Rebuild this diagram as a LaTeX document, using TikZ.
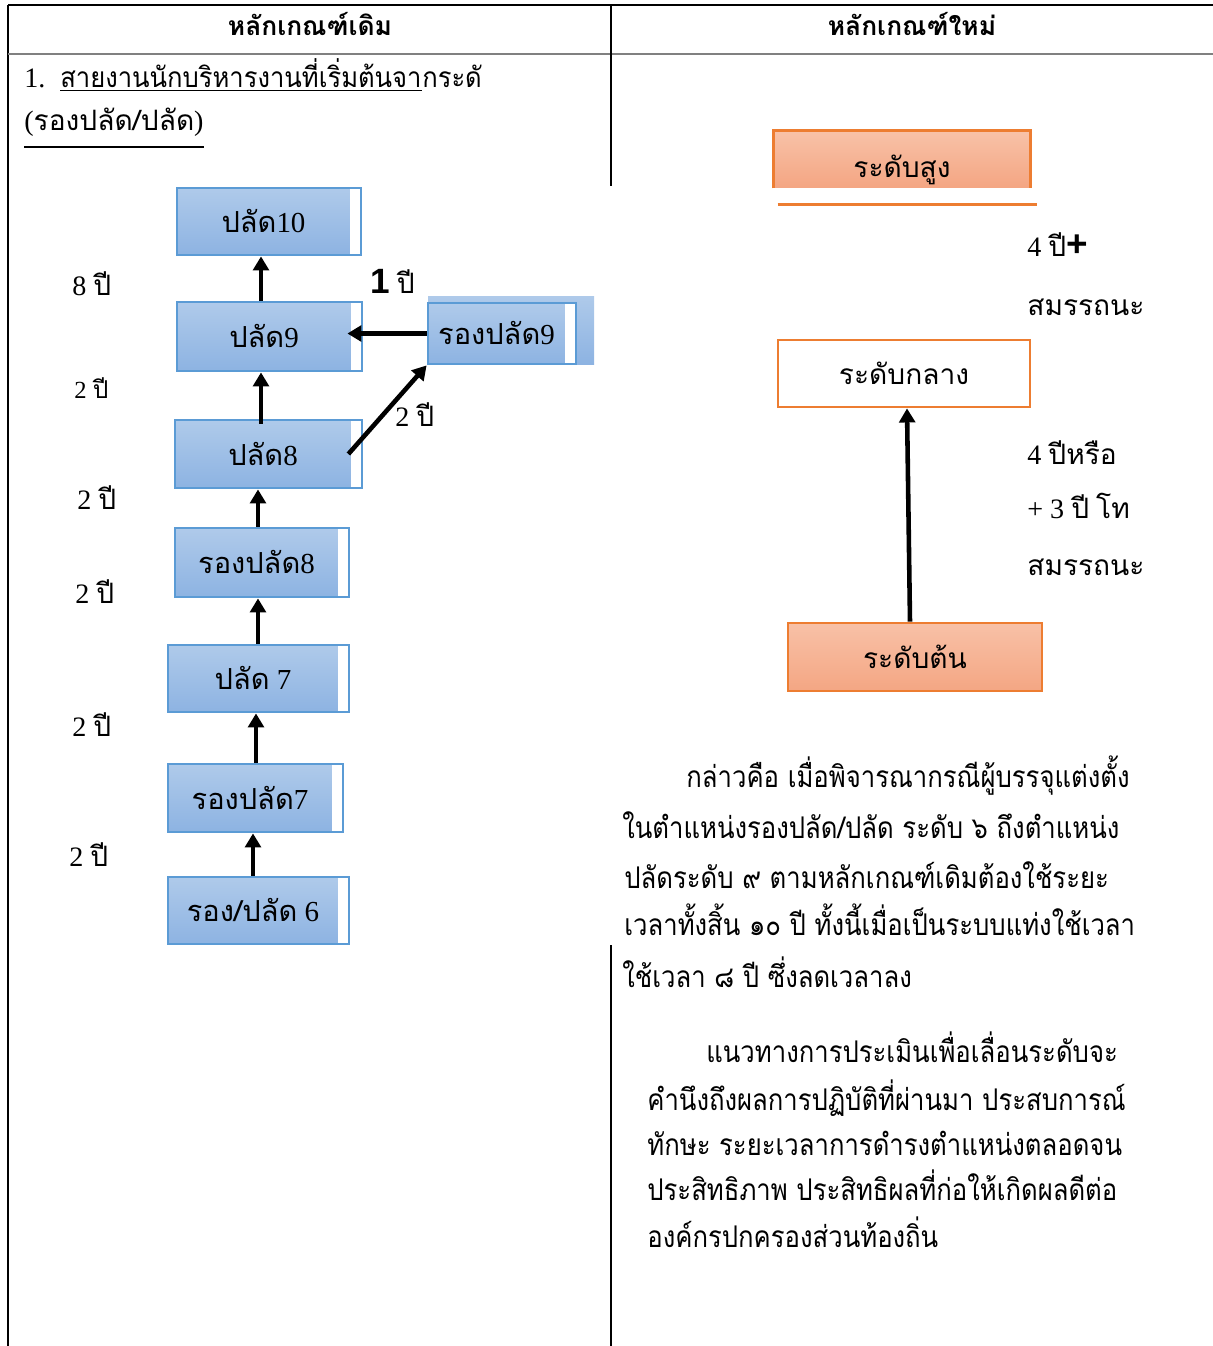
\documentclass[tikz,border=0pt]{standalone}
\usepackage{fontspec}
\setmainfont{Liberation Serif}
\newfontfamily\thai[Script=Thai]{Loma}
\newfontfamily\thain[Script=Thai,FakeStretch=0.91]{Loma}
\newfontfamily\thaitall[Script=Thai,FakeStretch=0.86]{Loma}
\newfontfamily\arialb{Liberation Sans}
\usetikzlibrary{arrows.meta}
\definecolor{blueedge}{HTML}{5B9BD5}
\definecolor{bluetop}{HTML}{AFCAEA}
\definecolor{bluebot}{HTML}{8DB3E2}
\definecolor{orangeedge}{HTML}{ED7D31}
\definecolor{saltop}{HTML}{F8C1A7}
\definecolor{salbot}{HTML}{F4A683}
\newcommand\thaiyear{{\thai ปี}}

\begin{document}
\begin{tikzpicture}[x=0.02cm, y=-0.02cm,
    blbox/.style={draw=blueedge, line width=1.6pt, top color=bluetop, bottom color=bluebot,
      inner sep=0pt, text height=14pt, text depth=1pt, font=\fontsize{16.5}{19}\selectfont,
      execute at end node=\hspace{.22cm},
      path picture={\fill[white] ([xshift=-.22cm]path picture bounding box.north east) rectangle (path picture bounding box.south east);}},
    orbox/.style={draw=orangeedge, line width=1.6pt, top color=saltop, bottom color=salbot,
      inner sep=0pt, text height=14pt, text depth=1pt, font=\thai\fontsize{16}{19}\selectfont},
    head/.style={anchor=base, inner sep=0pt, font=\thai\bfseries\fontsize{15}{18}\selectfont},
    lbl/.style={anchor=base west, inner sep=0pt, font=\fontsize{16}{19}\selectfont},
    para/.style={anchor=base west, inner sep=0pt, font=\thaitall\fontsize{17}{20}\selectfont},
    arr/.style={line width=2.6pt, -{Triangle[length=8pt, width=9pt]}}]
  \useasboundingbox (0,0) rectangle (1213,1346);

  % table
  \draw[line width=.6pt] (8,5) -- (1213,5);
  \draw[line width=.6pt] (8,5) -- (8,1346);
  \draw[gray, line width=1.2pt] (8,54) -- (1213,54);
  \draw[line width=.6pt] (611,5) -- (611,186);
  \draw[line width=.6pt] (611,945) -- (611,1346);
  \node[head] (h1) at (310,35) {หลักเกณฑ์เดิม};
  \node[head] (h2) at (912,35) {หลักเกณฑ์ใหม่};

  % left column
  \node[lbl] (n1) at (24,87) {1.};
  \node[lbl, font=\thain\fontsize{16}{19}\selectfont] (u1) at (60,87) {สายงานนักบริหารงานที่เริ่มต้นจา};
  \node[lbl, font=\thain\fontsize{16}{19}\selectfont] (u2) at (u1.base east) {กระดั};
  \draw[line width=.7pt] ([yshift=-2pt]u1.base west) -- ([yshift=-2pt]u1.base east);
  \node[lbl] (sub) at (24,130) {({\thai รองปลัด/ปลัด})};
  \draw[line width=1.7pt] (sub.base west |- 0,147) -- (sub.base east |- 0,147);

  \fill[top color=bluetop, bottom color=bluebot] (428,296) rectangle (594,364);
  \node[blbox, minimum width=3.68cm, minimum height=1.34cm] (p10) at (269,221.5) {{\thai ปลัด}10};
  \node[blbox, minimum width=3.70cm, minimum height=1.38cm] (p9) at (269.5,336.5) {{\thai ปลัด}9};
  \node[blbox, minimum width=2.96cm, minimum height=1.22cm, execute at end node={}] (rp9) at (502,333.5) {{\thai รองปลัด}9};
  \node[blbox, minimum width=3.74cm, minimum height=1.36cm] (p8) at (268.5,454) {{\thai ปลัด}8};
  \node[blbox, minimum width=3.48cm, minimum height=1.38cm] (rp8) at (262,562.5) {{\thai รองปลัด}8};
  \node[blbox, minimum width=3.62cm, minimum height=1.34cm] (p7) at (258.5,678.5) {{\thai ปลัด} 7};
  \node[blbox, minimum width=3.50cm, minimum height=1.36cm] (rp7) at (255.5,798) {{\thai รองปลัด}7};
  \node[blbox, minimum width=3.62cm, minimum height=1.34cm] (rp6) at (258.5,910.5) {{\thai รอง/ปลัด} 6};

  \draw[arr] (p9.north -| 261,0) -- (p10.south -| 261,0);
  \draw[arr] ([yshift=-.1cm]p8.north -| 261,0) -- (p9.south -| 261,0);
  \draw[arr] (rp8.north -| 258,0) -- (p8.south -| 258,0);
  \draw[arr] (p7.north -| 258,0) -- (rp8.south -| 258,0);
  \draw[arr] (rp7.north -| 256,0) -- (p7.south -| 256,0);
  \draw[arr] (rp6.north -| 253,0) -- (rp7.south -| 253,0);
  \draw[arr, line width=3pt, shorten >=-.32cm] (rp9.west) -- (p9.east |- rp9.west);
  \draw[arr] ([xshift=-.3cm]p8.east) -- (rp9.south west);

  \node[lbl] (y10) at (72,295) {8 \thaiyear};
  \node[lbl, font=\fontsize{14}{17}\selectfont] (y9) at (74,398) {2 \thaiyear};
  \node[lbl] (y8) at (77,509) {2 \thaiyear};
  \node[lbl] (y8b) at (75,603) {2 \thaiyear};
  \node[lbl] (y7) at (72,736) {2 \thaiyear};
  \node[lbl] (y7b) at (69,866) {2 \thaiyear};
  \node[lbl] (y1) at (370,293) {{\arialb\bfseries\fontsize{20}{22}\selectfont 1} \thaiyear};
  \node[lbl] (y2) at (395,426) {2 \thaiyear};

  % right column
  \node[orbox, draw=none, minimum width=5.08cm, minimum height=1.1cm, text height=22pt] (hi) at (902,159.5) {ระดับสูง};
  \draw[orangeedge, line width=1.6pt] (hi.south west) -- (hi.north west) -- (hi.north east) -- (hi.south east);
  \draw[orangeedge, line width=1.6pt] ([shift={(.08cm,-.32cm)}]hi.south west) -- ([shift={(.14cm,-.32cm)}]hi.south east);
  \node[orbox, fill=white, top color=white, bottom color=white, minimum width=5.04cm, minimum height=1.34cm] (mid) at (904,373.5) {ระดับกลาง};
  \node[orbox, minimum width=5.08cm, minimum height=1.36cm] (low) at (915,657) {ระดับต้น};
  \draw[arr] (low.north -| 910,0) -- (mid.south -| 907,0);

  \node[lbl] (r1) at (1027,256) {4 \thaiyear{\arialb\bfseries\fontsize{21}{22}\selectfont +}};
  \node[lbl] (r2) at (1027,315) {\thai สมรรถนะ};
  \node[lbl] (r3) at (1027,464) {4 {\thai ปีหรือ}};
  \node[lbl] (r4) at (1027,518) {+ 3 \thaiyear\ {\thai โท}};
  \node[lbl] (r5) at (1027,575) {\thai สมรรถนะ};

  \node[para] (t1) at (686,787) {กล่าวคือ เมื่อพิจารณากรณีผู้บรรจุแต่งตั้ง};
  \node[para] (t2) at (622,838) {ในตำแหน่งรองปลัด/ปลัด ระดับ ๖ ถึงตำแหน่ง};
  \node[para] (t3) at (624,888) {ปลัดระดับ ๙ ตามหลักเกณฑ์เดิมต้องใช้ระยะ};
  \node[para] (t4) at (624,935) {เวลาทั้งสิ้น ๑๐ ปี ทั้งนี้เมื่อเป็นระบบแท่งใช้เวลา};
  \node[para] (t5) at (622,987) {ใช้เวลา ๘ ปี ซึ่งลดเวลาลง};

  \node[para] (s1) at (706,1062) {แนวทางการประเมินเพื่อเลื่อนระดับจะ};
  \node[para] (s2) at (647,1110) {คำนึงถึงผลการปฏิบัติที่ผ่านมา ประสบการณ์};
  \node[para] (s3) at (647,1155) {ทักษะ ระยะเวลาการดำรงตำแหน่งตลอดจน};
  \node[para] (s4) at (647,1200) {ประสิทธิภาพ ประสิทธิผลที่ก่อให้เกิดผลดีต่อ};
  \node[para] (s5) at (647,1247) {องค์กรปกครองส่วนท้องถิ่น};
\end{tikzpicture}
\end{document}
